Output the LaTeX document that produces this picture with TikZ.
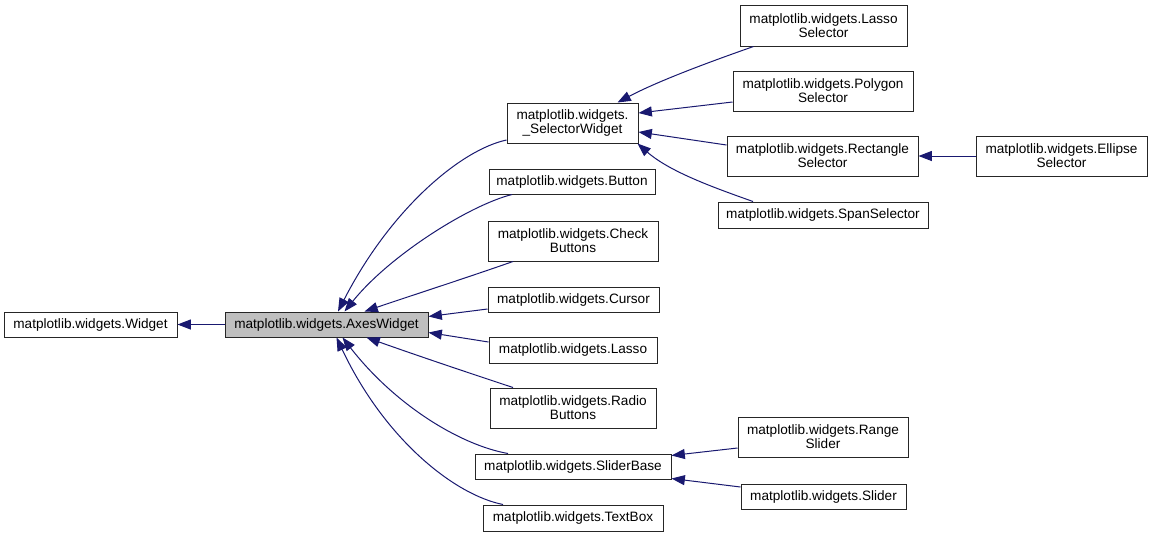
\documentclass[tikz,border=0pt]{standalone}
\usepackage{fontspec}
\setmainfont{Liberation Sans}
\usetikzlibrary{arrows.meta}
\definecolor{edgeblue}{HTML}{191970}
\definecolor{hl}{HTML}{BFBFBF}
\tikzset{
  bx/.style 2 args={draw=black!85, line width=0.75pt, rectangle, inner sep=0pt,
    minimum width=#1*0.75pt, minimum height=#2*0.75pt, align=center,
    font=\fontsize{10.2pt}{10.6pt}\selectfont, fill=white},
  edge/.style={draw=edgeblue, line width=0.75pt,
    -{Triangle[length=10pt,width=7.5pt]}, fill=none},
}
\begin{document}
\begin{tikzpicture}[x=0.75pt,y=-0.75pt]
\useasboundingbox[fill=white] (0,0) rectangle (1152,537);

\node[bx={173}{25}] (w) at (90.5,324.5) {matplotlib.widgets.Widget};
\node[bx={203}{25}, fill=hl] (ax) at (326.5,324.5) {matplotlib.widgets.AxesWidget};
\node[bx={131}{40}] (sw) at (572.5,123) {matplotlib.widgets.\\\_SelectorWidget};
\node[bx={166}{25}] (btn) at (572,181.5) {matplotlib.widgets.Button};
\node[bx={170}{40}] (chk) at (573,241) {matplotlib.widgets.Check\\Buttons};
\node[bx={171}{25}] (cur) at (573.5,299.5) {matplotlib.widgets.Cursor};
\node[bx={168}{26}] (las) at (573,350) {matplotlib.widgets.Lasso};
\node[bx={166}{40}] (rad) at (573,408) {matplotlib.widgets.Radio\\Buttons};
\node[bx={196}{25}] (sb) at (573,466.5) {matplotlib.widgets.SliderBase};
\node[bx={180}{26}] (tb) at (573,518) {matplotlib.widgets.TextBox};
\node[bx={167}{41}] (ls) at (823.5,25.5) {matplotlib.widgets.Lasso\\Selector};
\node[bx={180}{40}] (poly) at (823,91) {matplotlib.widgets.Polygon\\Selector};
\node[bx={191}{40}] (rect) at (822.5,156) {matplotlib.widgets.Rectangle\\Selector};
\node[bx={210}{26}] (span) at (823,215) {matplotlib.widgets.SpanSelector};
\node[bx={171}{40}] (el) at (1061.5,156) {matplotlib.widgets.Ellipse\\Selector};
\node[bx={170}{40}] (rs) at (823,437) {matplotlib.widgets.Range\\Slider};
\node[bx={165}{25}] (sl) at (823.5,496.5) {matplotlib.widgets.Slider};

% inheritance edges
\draw[edge] (ax.west) -- (w.east);

\draw[edge] ([shift={(0,17)}]sw.west) .. controls (460,150) and (390,210) .. ([shift={(11.5,0)}]ax.north);
\draw[edge] ([shift={(-60,0)}]btn.south) .. controls (470,205) and (390,255) .. ([shift={(18,0)}]ax.north);
\draw[edge] ([shift={(-60,0)}]chk.south) .. controls (460,280) and (410,296) .. ([shift={(38,0)}]ax.north);
\draw[edge] ([shift={(0,9.5)}]cur.west) -- ([shift={(0,-8)}]ax.east);
\draw[edge] ([shift={(0,-8)}]las.west) -- ([shift={(0,8)}]ax.east);
\draw[edge] ([shift={(-60,0)}]rad.north) .. controls (460,370) and (410,353) .. ([shift={(40,0)}]ax.south);
\draw[edge] ([shift={(-65,0)}]sb.north) .. controls (460,445) and (395,405) .. ([shift={(16,0)}]ax.south);
\draw[edge] ([shift={(-70,0)}]tb.north) .. controls (455,495) and (385,440) .. ([shift={(10,0)}]ax.south);

\draw[edge] ([shift={(-70,0)}]ls.south) .. controls (715,60) and (660,80) .. ([shift={(45,0)}]sw.north);
\draw[edge] ([shift={(0,11)}]poly.west) -- ([shift={(0,-10)}]sw.east);
\draw[edge] ([shift={(0,-11)}]rect.west) -- ([shift={(0,9)}]sw.east);
\draw[edge] ([shift={(-70,0)}]span.north) .. controls (715,188) and (670,172) .. ([shift={(-1,0)}]sw.south east);
\draw[edge] (el.west) -- (rect.east);

\draw[edge] ([shift={(0,11)}]rs.west) -- ([shift={(0,-11)}]sb.east);
\draw[edge] ([shift={(0,-9.5)}]sl.west) -- ([shift={(0,12)}]sb.east);
\end{tikzpicture}
\end{document}
